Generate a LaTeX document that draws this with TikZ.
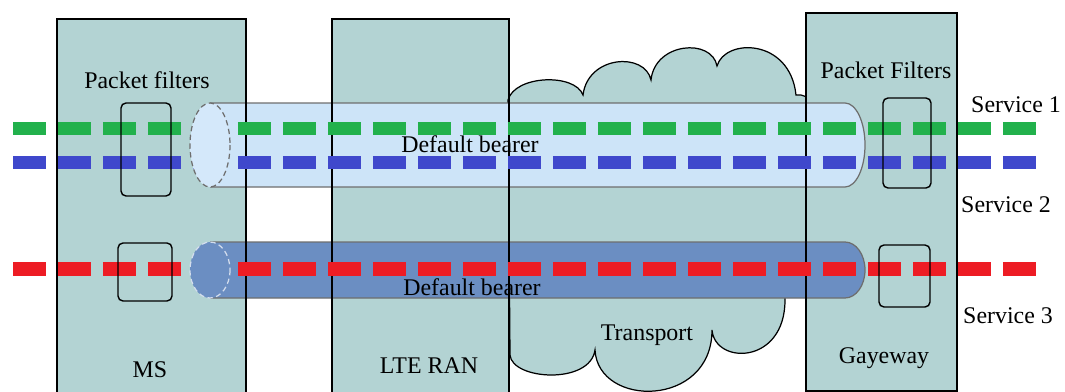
\documentclass[tikz,border=0pt]{standalone}
\usepackage{fontspec}
\setmainfont{Liberation Serif}
\definecolor{unitfill}{HTML}{B3D3D3}
\definecolor{bearerA}{HTML}{CDE4F8}
\definecolor{bearerAend}{HTML}{D4E8FA}
\definecolor{bearerB}{HTML}{6B8EC2}
\definecolor{tubeline}{HTML}{6E6E6E}
\definecolor{flowgreen}{HTML}{22B14C}
\definecolor{flowblue}{HTML}{3F48CC}
\definecolor{flowred}{HTML}{ED1C24}
\tikzset{
  unitbox/.style={fill=unitfill},
  unitedge/.style={draw=black,line width=0.9pt},
  cloudshape/.style={fill=unitfill,draw=black,line width=0.7pt},
  tubeedge/.style={draw=tubeline,line width=0.7pt},
  flow/.style={line width=0.27cm,dash pattern=on 0.66cm off 0.24cm},
  filterbox/.style={draw=black,line width=0.8pt,rounded corners=0.1cm},
  label/.style={font=\fontsize{13.6}{16}\selectfont,anchor=base,inner sep=0pt}
}
\begin{document}
\begin{tikzpicture}[x=0.02cm,y=-0.02cm]
\useasboundingbox (0,0) rectangle (1065,392);
\clip (0,0) rectangle (1065,392);

% network units (fill only; edges are drawn later, over the bearers)
\fill[unitbox] (57,19) rectangle (246,400);
\fill[unitbox] (332,19) rectangle (509,400);

% transport cloud
\path[cloudshape] (508,100)
  .. controls (515,75) and (575,73) .. (583,95)
  .. controls (588,55) and (645,52) .. (651,80)
  .. controls (655,42) and (712,38) .. (717,66)
  .. controls (725,38) and (790,38) .. (796,95)
  .. controls (803,94) and (808,97) .. (812,103)
  -- (830,103) -- (830,280) -- (785,280) -- (785,300)
  .. controls (785,365) and (715,365) .. (712,330)
  .. controls (712,408) and (598,408) .. (595,350)
  .. controls (590,385) and (512,380) .. (510,355)
  -- cycle;

\fill[unitbox] (806,13) rectangle (957,391);

% default bearers (tubes)
\fill[bearerA] (210,103) -- (845,103) arc[start angle=90,end angle=-90,x radius=20,y radius=-42] -- (210,187) -- cycle;
\draw[tubeedge] (210,103) -- (845,103) arc[start angle=90,end angle=-90,x radius=20,y radius=-42] -- (210,187);
\fill[bearerB] (210,242) -- (845,242) arc[start angle=90,end angle=-90,x radius=20,y radius=-28] -- (210,298) -- cycle;
\draw[tubeedge] (210,242) -- (845,242) arc[start angle=90,end angle=-90,x radius=20,y radius=-28] -- (210,298);

% unit edges
\draw[unitedge] (57,400) -- (57,19) -- (246,19) -- (246,400);
\draw[unitedge] (332,400) -- (332,19) -- (509,19) -- (509,400);
\draw[unitedge] (806,13) rectangle (957,391);

% service flows
\coordinate (s1a) at (13,128.5);  \coordinate (s1b) at (1040,128.5);
\coordinate (s2a) at (13,162.5);  \coordinate (s2b) at (1040,162.5);
\coordinate (s3a) at (13,269);    \coordinate (s3b) at (1040,269);
\draw[flow,flowgreen] (s1a) -- (s1b);
\draw[flow,flowblue] (s2a) -- (s2b);
\draw[flow,flowred] (s3a) -- (s3b);

% bearer entrances at the MS side
\draw[fill=bearerAend,draw=tubeline,line width=0.7pt,densely dashed] (210,145) ellipse[x radius=20,y radius=42];
\draw[fill=bearerB,draw=white!70!bearerB,line width=0.7pt,densely dashed] (210,270) ellipse[x radius=20,y radius=28];

% packet filters
\draw[filterbox] (121,103) rectangle (171,196);
\draw[filterbox] (118,243) rectangle (172,301);
\draw[filterbox] (883,98) rectangle (931,188);
\draw[filterbox] (879,245) rectangle (930,307);

% labels
\node[label] (pfms) at (147,88) {Packet filters};
\node[label] (pfgw) at (886,78) {Packet Filters};
\node[label] (db1) at (470,152) {Default bearer};
\node[label] (db2) at (472,295) {Default bearer};
\node[label] (sv1) at (1016,112) {Service 1};
\node[label] (sv2) at (1006,212) {Service 2};
\node[label] (sv3) at (1008,323) {Service 3};
\node[label] (ms) at (150,377) {MS};
\node[label] (ran) at (429,373) {LTE RAN};
\node[label] (tr) at (647,340) {Transport};
\node[label] (gw) at (884,363) {Gayeway};
\end{tikzpicture}
\end{document}
